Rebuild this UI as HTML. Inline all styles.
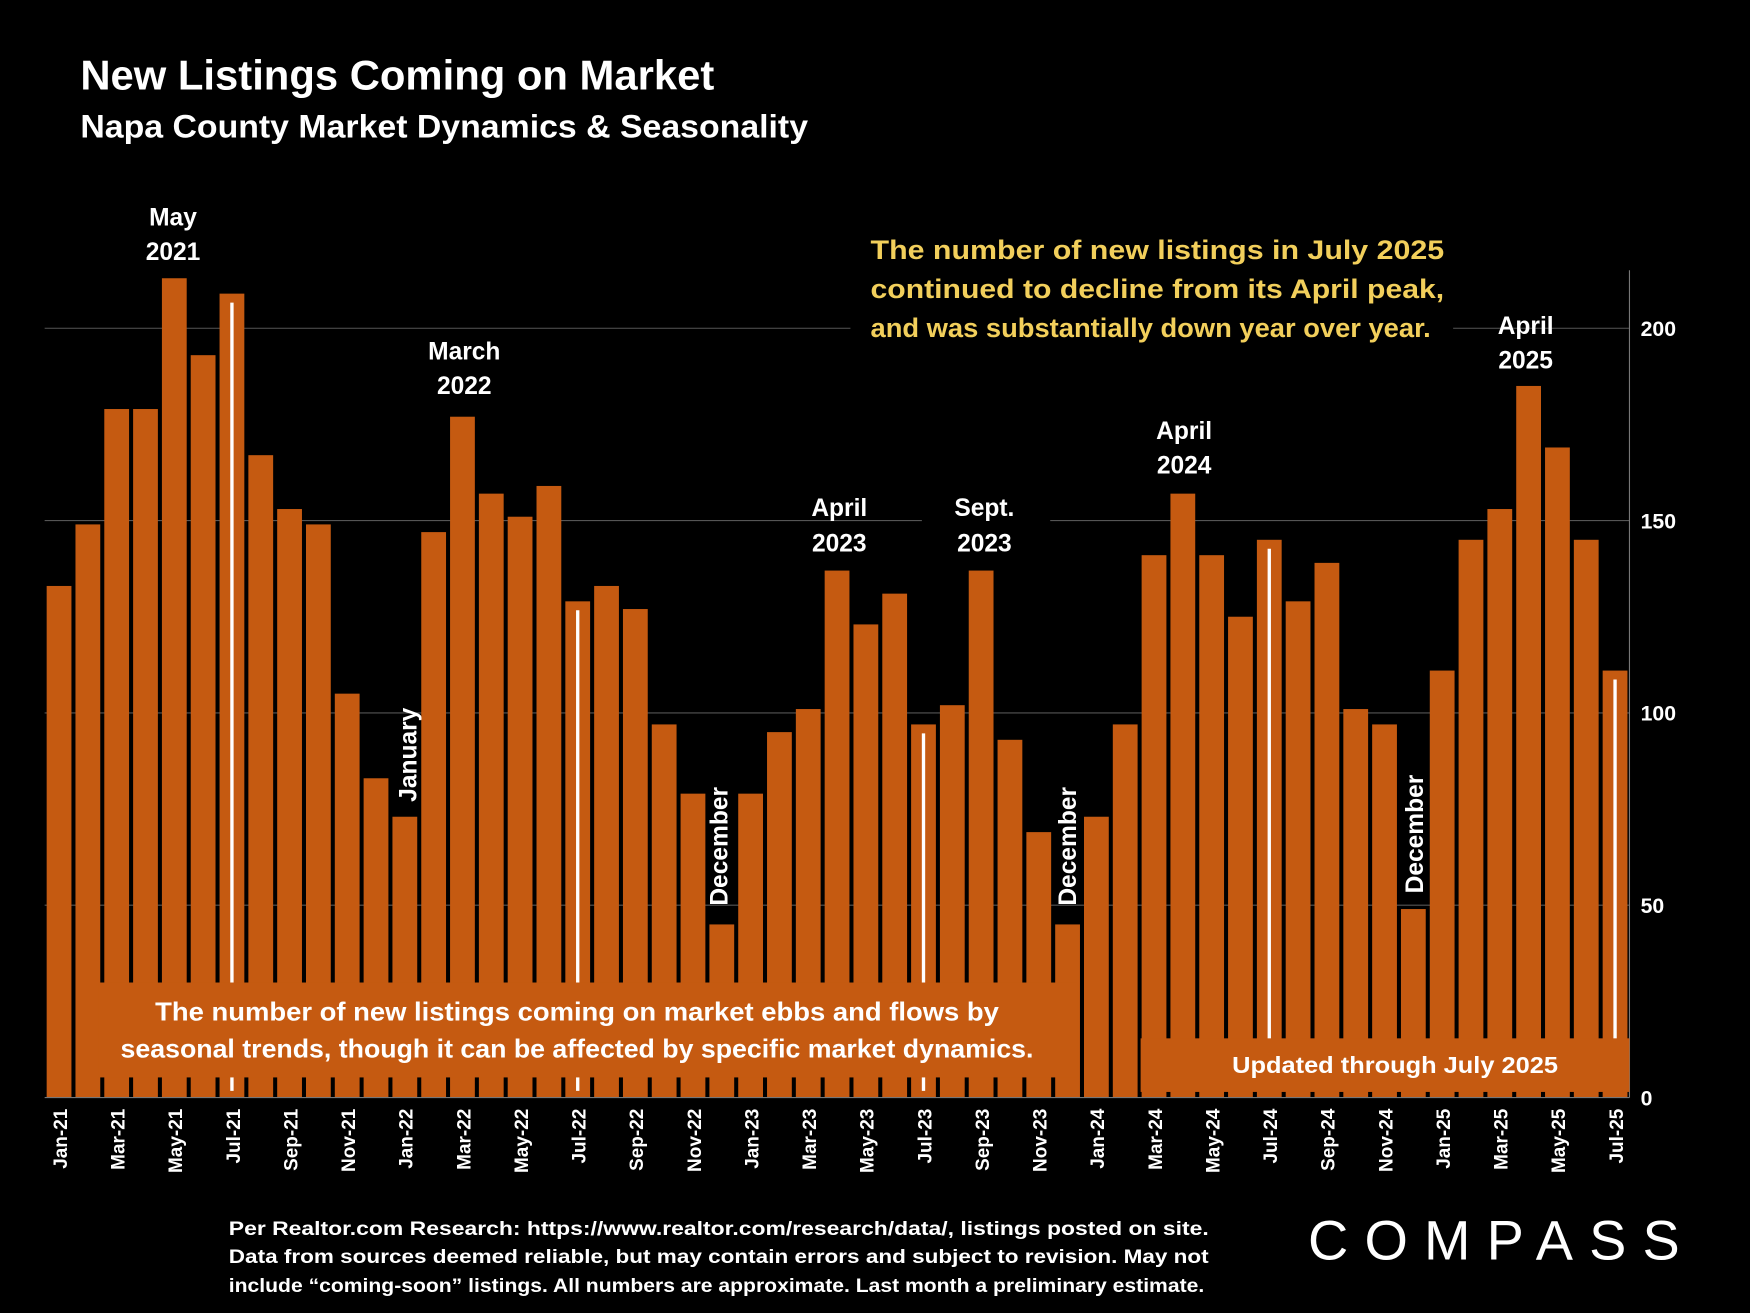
<!DOCTYPE html>
<html><head><meta charset="utf-8"><style>
html,body{margin:0;padding:0;background:#000;}
svg{display:block;font-family:"Liberation Sans",sans-serif;}
</style></head><body>
<svg id="chart" width="1750" height="1313" viewBox="0 0 1568 1176" preserveAspectRatio="none" xmlns="http://www.w3.org/2000/svg">
<rect x="0" y="0" width="1568" height="1176" fill="#000"/>
<text x="72" y="80" fill="#fff" font-size="37" font-weight="bold" textLength="568" lengthAdjust="spacingAndGlyphs">New Listings Coming on Market</text>
<text x="72" y="123" fill="#fff" font-size="29" font-weight="bold" textLength="652" lengthAdjust="spacingAndGlyphs">Napa County Market Dynamics &amp; Seasonality</text>
<g id="grid"></g>
<g id="bars"></g>
<g id="yticks"></g>
<g id="xticks"></g>
<rect x="762" y="205" width="540" height="108" fill="#000"/>
<rect x="826" y="440" width="115" height="60" fill="#000"/>
<g fill="#f2cf5b" font-size="24" font-weight="bold">
<text x="780" y="232" textLength="514" lengthAdjust="spacingAndGlyphs">The number of new listings in July 2025</text>
<text x="780" y="267" textLength="514" lengthAdjust="spacingAndGlyphs">continued to decline from its April peak,</text>
<text x="780" y="302" textLength="502" lengthAdjust="spacingAndGlyphs">and was substantially down year over year.</text>
</g>
<g fill="#fff" font-size="22" font-weight="bold" text-anchor="middle">
<text x="155" y="202">May</text><text x="155" y="233">2021</text>
<text x="416" y="322">March</text><text x="416" y="353">2022</text>
<text x="752" y="462">April</text><text x="752" y="494">2023</text>
<text x="882" y="462">Sept.</text><text x="882" y="494">2023</text>
<text x="1061" y="393">April</text><text x="1061" y="424">2024</text>
<text x="1367" y="299">April</text><text x="1367" y="330">2025</text>
<text transform="translate(373,676) rotate(-90)">January</text>
<text transform="translate(652,758) rotate(-90)">December</text>
<text transform="translate(964,758) rotate(-90)">December</text>
<text transform="translate(1275,747) rotate(-90)">December</text>
</g>
<rect x="88" y="880" width="877" height="85" fill="#c55a11"/>
<g fill="#fff" font-size="23" font-weight="bold" text-anchor="middle">
<text x="517" y="914" textLength="756" lengthAdjust="spacingAndGlyphs">The number of new listings coming on market ebbs and flows by</text>
<text x="517" y="947" textLength="818" lengthAdjust="spacingAndGlyphs">seasonal trends, though it can be affected by specific market dynamics.</text>
</g>
<rect x="1022" y="930" width="438" height="48" fill="#c55a11"/>
<text x="1250" y="961" fill="#fff" font-size="21" font-weight="bold" text-anchor="middle" textLength="292" lengthAdjust="spacingAndGlyphs">Updated through July 2025</text>
<g fill="#fff" font-size="17" font-weight="bold">
<text x="205" y="1106" textLength="878" lengthAdjust="spacingAndGlyphs">Per Realtor.com Research:  https://www.realtor.com/research/data/, listings posted on site.</text>
<text x="205" y="1131" textLength="878" lengthAdjust="spacingAndGlyphs">Data from sources deemed reliable, but may contain errors and subject to revision. May not</text>
<text x="205" y="1157" textLength="874" lengthAdjust="spacingAndGlyphs">include “coming-soon” listings. All numbers are approximate. Last month a preliminary estimate.</text>
</g>
<text x="1172" y="1128" fill="#fff" font-size="50" textLength="333" lengthAdjust="spacing">COMPASS</text>
</svg>
<script>
const categories=[];
const years=['21','22','23','24','25'];
const months=['Jan','Feb','Mar','Apr','May','Jun','Jul','Aug','Sep','Oct','Nov','Dec'];
const values=[133,149,179,179,213,193,209,167,153,149,105,83,
73,147,177,157,151,159,129,133,127,97,79,45,
79,95,101,137,123,131,97,102,137,93,69,45,
73,97,141,157,141,125,145,129,139,101,97,49,
111,145,153,185,169,145,111];
const yTicks=[0,50,100,150,200];
for(let i=0;i<values.length;i++){categories.push(months[i%12]+'-'+years[Math.floor(i/12)]);}
const NS='http://www.w3.org/2000/svg';
const x0=40,x1=1460,y0=983,yTop=294;
function yS(v){return y0-(v/200)*(y0-yTop);}
const pitch=(x1-x0)/values.length;
function xS(i){return x0+pitch*(i+0.5);}
function mk(t,a,p){const e=document.createElementNS(NS,t);for(const k in a)e.setAttribute(k,a[k]);p.appendChild(e);return e;}
const grid=document.getElementById('grid'),bars=document.getElementById('bars'),yt=document.getElementById('yticks'),xt=document.getElementById('xticks');
yTicks.forEach(v=>{
  if(v>0){const g=mk('line',{x1:x0,x2:x1,y1:yS(v),y2:yS(v),stroke:'#555','stroke-width':1},grid);
  
  }
  const t=mk('text',{x:1470,y:yS(v)+7,fill:'#fff','font-size':19,'font-weight':'bold'},yt);
  
  
  t.textContent=v;
});
const ax=mk('line',{x1:x1,x2:x1,y1:242,y2:y0,stroke:'#777','stroke-width':1},yt);


const bx=mk('line',{x1:x0,x2:x1,y1:y0,y2:y0,stroke:'#777','stroke-width':1},yt);


const bw=pitch*0.86;
values.forEach((v,i)=>{
  const r=mk('rect',{x:xS(i)-bw/2,y:yS(v),width:bw,height:y0-yS(v),fill:'#c55a11'},bars);
  
  
  if(i%12===6){
    const l=mk('line',{x1:xS(i),x2:xS(i),y1:yS(v)+8,y2:y0-6,stroke:'#fff','stroke-width':3},bars);
    
    
  }
  if(i%2===0){
    const t=mk('text',{transform:'translate('+(xS(i)+7)+','+(y0+10)+') rotate(-90)',fill:'#fff','font-size':17,'font-weight':'bold','text-anchor':'end'},xt);
    
    
    t.textContent=categories[i];
  }
});
</script>
</body></html>
